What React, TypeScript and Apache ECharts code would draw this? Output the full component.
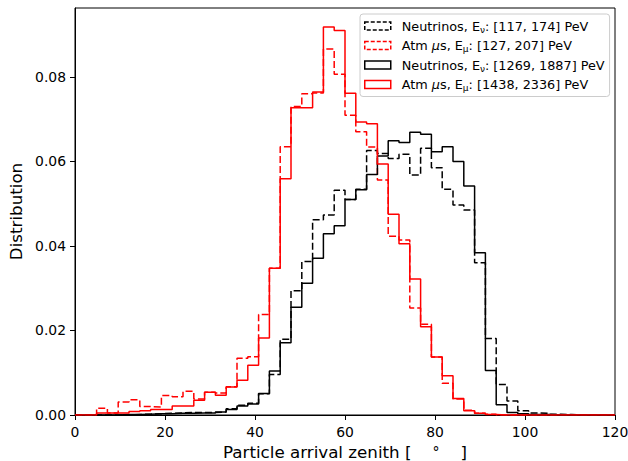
import React, { useEffect, useRef } from "react";
import * as echarts from "echarts";

// 50 bins of 2.4° from 0 to 120
const binWidth = 2.4;
const binCount = 50;

const nuLow = [
  0, 0, 0, 0, 0, 0.0001, 0.0002, 0.0003, 0.0004, 0.0005,
  0.0006, 0.0006, 0.0006, 0.0007, 0.0015, 0.0023, 0.0028, 0.005, 0.0096, 0.0179,
  0.0294, 0.0363, 0.0462, 0.0473, 0.0532, 0.051, 0.0534, 0.0626, 0.0619, 0.0607,
  0.0617, 0.0568, 0.0631, 0.0585, 0.0534, 0.0497, 0.0485, 0.036, 0.0181, 0.0072,
  0.0033, 0.001, 0.0005, 0.0004, 0.0002, 0.0001, 0, 0, 0, 0,
];
const muLow = [
  0, 0, 0.0016, 0.0005, 0.0031, 0.0036, 0.002, 0.0019, 0.0046, 0.0043,
  0.0056, 0.0038, 0.0054, 0.0052, 0.0067, 0.0134, 0.0138, 0.0238, 0.0347, 0.0635,
  0.073, 0.076, 0.0762, 0.0866, 0.0806, 0.0709, 0.067, 0.0634, 0.0556, 0.0423,
  0.0414, 0.0253, 0.0215, 0.0137, 0.0075, 0.0038, 0.0011, 0.0004, 0.0002, 0,
  0, 0, 0, 0, 0, 0, 0, 0, 0, 0,
];
const nuHigh = [
  0, 0, 0, 0, 0.0001, 0.0001, 0.0002, 0.0003, 0.0003, 0.0004,
  0.0004, 0.0005, 0.0005, 0.0007, 0.0013, 0.0021, 0.0026, 0.0051, 0.0104, 0.0171,
  0.0255, 0.0312, 0.0371, 0.0429, 0.0448, 0.051, 0.0533, 0.0569, 0.0613, 0.0649,
  0.0645, 0.0669, 0.0664, 0.0623, 0.0635, 0.06, 0.0542, 0.0384, 0.0105, 0.0024,
  0.0006, 0.0003, 0.0001, 0.0001, 0, 0, 0, 0, 0, 0,
];
const muHigh = [
  0, 0, 0.0005, 0.0005, 0.0005, 0.0008, 0.001, 0.0013, 0.0013, 0.0021,
  0.0021, 0.0035, 0.0054, 0.0047, 0.0066, 0.0082, 0.0118, 0.0182, 0.0347, 0.0559,
  0.0727, 0.0727, 0.0764, 0.0918, 0.091, 0.0761, 0.0693, 0.0689, 0.0594, 0.0475,
  0.0405, 0.0322, 0.0209, 0.0137, 0.0093, 0.0039, 0.001, 0.0004, 0.0001, 0,
  0, 0, 0, 0, 0, 0, 0, 0, 0, 0,
];

const seriesNames = [
  "Neutrinos, Eν: [117, 174] PeV",
  "Atm μs, Eμ: [127, 207] PeV",
  "Neutrinos, Eν: [1269, 1887] PeV",
  "Atm μs, Eμ: [1438, 2336] PeV",
];
const legendRich = [
  "Neutrinos, E{sub|ν}: [117, 174] PeV",
  "Atm {it|μ}s, E{sub|μ}: [127, 207] PeV",
  "Neutrinos, E{sub|ν}: [1269, 1887] PeV",
  "Atm {it|μ}s, E{sub|μ}: [1438, 2336] PeV",
];
const seriesValues = [nuLow, muLow, nuHigh, muHigh];
const seriesColors = ["#000000", "#ff0000", "#000000", "#ff0000"];
const seriesDashed = [true, true, false, false];

const xTitle = "Particle arrival zenith [{deg|°}]";
const yTitle = "Distribution";

const FONT = "DejaVu Sans";

function stepData(vals: number[]) {
  const pts: [number, number][] = [];
  for (let i = 0; i < binCount; i++) pts.push([i * binWidth, vals[i]]);
  pts.push([binCount * binWidth, 0]);
  return pts;
}

export default function App() {
  const ref = useRef<HTMLDivElement>(null);
  useEffect(() => {
    if (!ref.current) return;
    const chart = echarts.init(ref.current, null, { renderer: "svg" });
    chart.setOption({
      animation: false,
      backgroundColor: "#ffffff",
      textStyle: { fontFamily: FONT },
      grid: {
        left: 75,
        right: 13,
        top: 8,
        bottom: 46,
        containLabel: false,
        outerBoundsMode: "none",
        show: true,
        borderColor: "#000000",
        borderWidth: 1,
        backgroundColor: "transparent",
      },
      legend: {
        orient: "vertical",
        left: 360,
        top: 14,
        padding: [4, 5, 4, 4],
        itemGap: 3.5,
        itemWidth: 26,
        itemHeight: 8,
        backgroundColor: "rgba(255,255,255,0.8)",
        borderColor: "#cccccc",
        borderWidth: 1,
        borderRadius: 3,
        selectedMode: false,
        icon: "rect",
        data: seriesNames.map((n, i) => ({
          name: n,
          icon: "rect",
          itemStyle: {
            color: "rgba(0,0,0,0)",
            borderColor: seriesColors[i],
            borderWidth: 1.5,
            borderType: seriesDashed[i] ? [4, 2] : "solid",
          },
        })),
        formatter: (name: string) => legendRich[seriesNames.indexOf(name)],
        textStyle: {
          fontFamily: FONT,
          fontSize: 12.8,
          color: "#000000",
          lineHeight: 16,
          padding: [0, 0, 0, 6],
          rich: {
            sub: { fontFamily: FONT, fontSize: 9, verticalAlign: "bottom", lineHeight: 11, color: "#000000" },
            it: { fontFamily: FONT, fontSize: 12.8, fontStyle: "italic", color: "#000000" },
          },
        },
      },
      xAxis: {
        type: "value",
        min: 0,
        max: 120,
        interval: 20,
        name: xTitle,
        nameLocation: "middle",
        nameGap: 26,
        nameTextStyle: {
          fontFamily: FONT,
          fontSize: 16.7,
          color: "#000000",
          rich: {
            deg: { fontFamily: FONT, fontSize: 14, color: "#000000", padding: [0, 21, 0, 21] },
          },
        },
        axisLine: { onZero: false, lineStyle: { color: "#000000", width: 1 } },
        axisTick: { show: true, inside: false, length: 5, lineStyle: { color: "#000000" } },
        axisLabel: { fontFamily: FONT, fontSize: 13.9, color: "#000000", margin: 10 },
        splitLine: { show: false },
      },
      yAxis: {
        type: "value",
        min: 0,
        max: 0.0963,
        interval: 0.02,
        name: yTitle,
        nameLocation: "middle",
        nameGap: 48,
        nameTextStyle: { fontFamily: FONT, fontSize: 16.7, color: "#000000" },
        axisLine: { show: true, lineStyle: { color: "#000000", width: 1 } },
        axisTick: { show: true, inside: false, length: 5, lineStyle: { color: "#000000" } },
        axisLabel: {
          fontFamily: FONT,
          fontSize: 13.9,
          color: "#000000",
          margin: 9,
          showMaxLabel: false,
          formatter: (v: number) => {
            const r = Math.round(v / 0.02);
            if (Math.abs(v - r * 0.02) > 1e-6) return "";
            return v.toFixed(2);
          },
        },
        splitLine: { show: false },
      },
      series: seriesValues.map((vals, i) => ({
        name: seriesNames[i],
        type: "line",
        step: "end",
        data: stepData(vals),
        showSymbol: false,
        symbol: "none",
        color: seriesColors[i],
        lineStyle: {
          color: seriesColors[i],
          width: 1.5,
          type: seriesDashed[i] ? [7, 3] : "solid",
        },
        z: 2 + i,
      })),
    });
    return () => chart.dispose();
  }, []);
  return (
    <div
      ref={ref}
      style={{ position: "absolute", left: 0, top: 0, width: 628, height: 461 }}
    />
  );
}
